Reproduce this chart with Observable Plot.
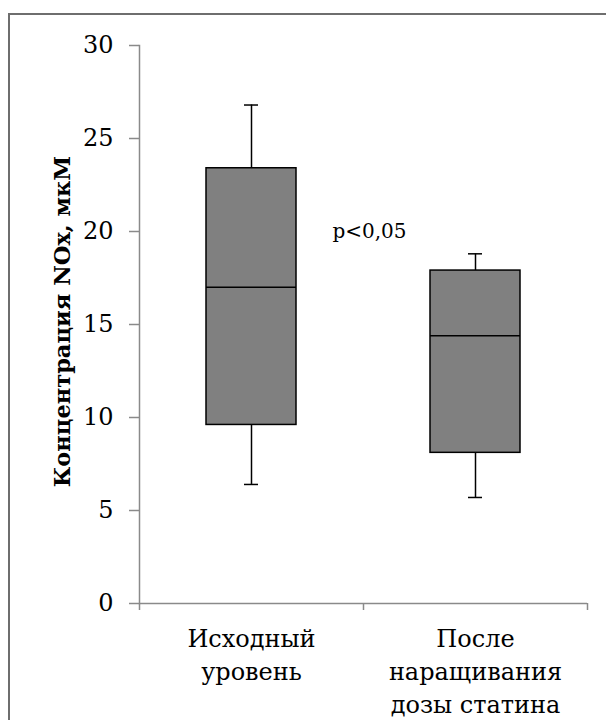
<!DOCTYPE html>
<html>
<head>
<meta charset="utf-8">
<script src="https://cdn.jsdelivr.net/npm/d3@7"></script>
<script src="https://cdn.jsdelivr.net/npm/@observablehq/plot@0.6"></script>
<style>
  html, body { margin: 0; padding: 0; background: #fff; overflow: hidden; }
  #wrap { position: relative; width: 606px; height: 720px; }
  #frame { position: absolute; left: 8px; top: 13px; width: 700px; height: 800px;
           border-left: 2px solid #6e6e6e; border-top: 2px solid #6e6e6e; }
  #chart { position: absolute; left: 0; top: 0; }
</style>
</head>
<body>
<div id="wrap"><div id="frame"></div><div id="chart"></div></div>
<script>
// Data
const categories = ["Исходный\nуровень", "После\nнаращивания\nдозы статина"];
const whiskerLow = [6.4, 5.7];
const q1 = [9.6, 8.1];
const median = [17.0, 14.4];
const q3 = [23.4, 17.9];
const whiskerHigh = [26.8, 18.8];
const yTicks = [0, 5, 10, 15, 20, 25, 30];
const yLabel = "Концентрация NOx, мкМ";
const annotation = "p<0,05";
const annotationY = 20;

const rows = categories.map((c, i) => ({
  cat: c, lo: whiskerLow[i], q1: q1[i], med: median[i], q3: q3[i], hi: whiskerHigh[i]
}));

const W = 606, H = 720;
const mL = 139, mR = 19, mT = 45, mB = 117;
const step = (W - mL - mR) / categories.length;
const grey = "#8a8a8a";
const font = "'DejaVu Serif', serif";

const chart = Plot.plot({
  width: W, height: H,
  marginLeft: mL, marginRight: mR, marginTop: mT, marginBottom: mB,
  style: { background: "transparent", color: "black" },
  x: { domain: categories, paddingInner: 0.6, paddingOuter: 0.3 },
  y: { domain: [0, 30] },
  marks: [
    Plot.frame({ anchor: "left", stroke: grey, strokeWidth: 1.5 }),
    Plot.ruleY([0], { stroke: grey, strokeWidth: 1.5 }),
    Plot.axisY(yTicks, { tickSize: 10, tickPadding: 16, stroke: grey, strokeWidth: 1.5,
      fill: "black", fontSize: 24, label: null }),
    Plot.axisX({ tickSize: 0, tickPadding: 20, fontSize: 24, lineHeight: 1.37,
      fill: "black", label: null }),
    Plot.axisX({ tickSize: 7, tickFormat: () => "", dx: -step / 2, stroke: grey,
      strokeWidth: 1.5, label: null }),
    Plot.axisX([categories[categories.length - 1]], { tickSize: 7, tickFormat: () => "",
      dx: step / 2, stroke: grey, strokeWidth: 1.5, label: null }),
    Plot.ruleX(rows, { x: "cat", y1: "q3", y2: "hi", stroke: "black", strokeWidth: 1.5 }),
    Plot.ruleX(rows, { x: "cat", y1: "lo", y2: "q1", stroke: "black", strokeWidth: 1.5 }),
    Plot.tickY(rows, { x: "cat", y: "hi", stroke: "black", strokeWidth: 1.5, insetLeft: 38, insetRight: 38 }),
    Plot.tickY(rows, { x: "cat", y: "lo", stroke: "black", strokeWidth: 1.5, insetLeft: 38, insetRight: 38 }),
    Plot.barY(rows, { x: "cat", y1: "q1", y2: "q3", fill: "#808080", stroke: "black", strokeWidth: 1.5 }),
    Plot.tickY(rows, { x: "cat", y: "med", stroke: "black", strokeWidth: 1.5 }),
    Plot.text([annotation], { y: () => annotationY, text: d => d, frameAnchor: "middle",
      dx: 6, fontSize: 20, fill: "black" }),
    Plot.text([yLabel], { text: d => d, frameAnchor: "left", rotate: -90, dx: -77, dy: -3,
      textAnchor: "middle", fontSize: 22.5, fontWeight: "bold", fill: "black",
      lineAnchor: "middle" })
  ]
});
d3.select(chart).style("font-family", font, "important");
d3.select(chart).selectAll("g, text, tspan")
  .attr("font-family", font)
  .style("font-family", font, "important");
document.getElementById("chart").appendChild(chart);
</script>
</body>
</html>
